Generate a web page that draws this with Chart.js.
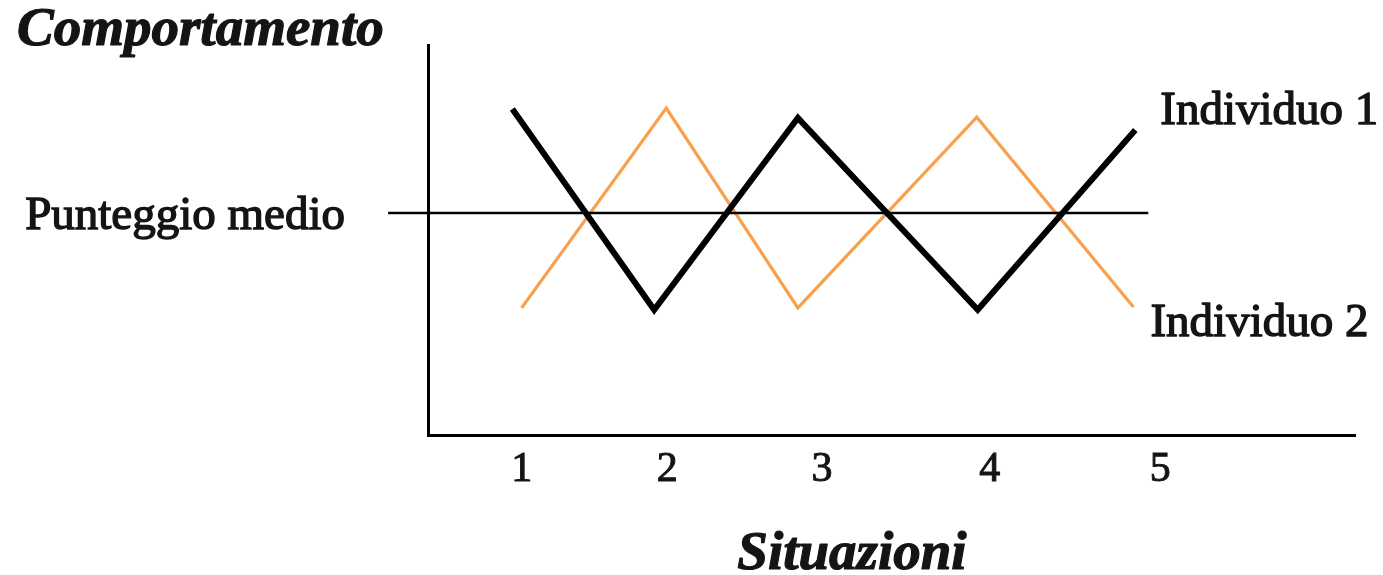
<!DOCTYPE html>
<html><head><meta charset="utf-8">
<script src="https://cdn.jsdelivr.net/npm/chart.js@4.4.1/dist/chart.umd.min.js"></script>
<style>html,body{margin:0;padding:0;background:#fff;overflow:hidden}#wrap{width:1383px;height:575px;position:relative}</style>
</head><body><div id="wrap"><canvas id="c" width="1383" height="575"></canvas></div>
<script>
// ---- data ----
const situationLabels = ['1', '2', '3', '4', '5'];
const situationTickPos = [10.1, 25.8, 42.5, 60.6, 79.0];
const individuo1X = [9.1, 24.4, 39.9, 59.3, 76.3];
const individuo1Y = [83.6, 32.1, 81.3, 32.1, 78.2];
const individuo2X = [10.1, 25.7, 39.9, 59.2, 76.1];
const individuo2Y = [32.6, 83.8, 32.6, 81.5, 32.8];
const meanScore = 56.9;
const meanLineX = [-4.3, 77.7];
const seriesNames = ['Individuo 1', 'Individuo 2'];
const yAxisTitle = 'Comportamento';
const xAxisTitle = 'Situazioni';
const meanLabel = 'Punteggio medio';

const SERIF = '"Liberation Serif", "DejaVu Serif", serif';
const INK = '#141414';
const toPts = (xs, ys) => xs.map((x, i) => ({x: x, y: ys[i]}));

function heavyText(ctx, text, x, y, sw) {
  ctx.lineWidth = sw;
  ctx.strokeStyle = INK;
  ctx.lineJoin = 'round';
  ctx.strokeText(text, x, y);
  ctx.fillText(text, x, y);
}

const textPlugin = {
  id: 'texts',
  afterDraw(chart) {
    const ctx = chart.ctx;
    ctx.save();
    ctx.fillStyle = INK;
    ctx.textBaseline = 'middle';
    // axis titles
    ctx.font = 'italic bold 55px ' + SERIF;
    ctx.textAlign = 'left';
    heavyText(ctx, yAxisTitle, 17, 31, 1.2);
    ctx.font = 'italic bold 55px ' + SERIF;
    ctx.textAlign = 'center';
    heavyText(ctx, xAxisTitle, 852, 555, 1.2);
    // series labels at the line ends
    ctx.font = '47px ' + SERIF;
    ctx.textAlign = 'left';
    const m1 = chart.getDatasetMeta(0).data;
    const e1 = m1[m1.length - 1];
    heavyText(ctx, seriesNames[0], e1.x + 25, e1.y - 18, 1.4);
    const m2 = chart.getDatasetMeta(2).data;
    const e2 = m2[m2.length - 1];
    heavyText(ctx, seriesNames[1], e2.x + 17, e2.y + 17, 1.4);
    ctx.restore();
  }
};

new Chart(document.getElementById('c'), {
  type: 'line',
  data: {
    datasets: [
      {
        label: seriesNames[0],
        data: toPts(individuo1X, individuo1Y),
        borderColor: '#000',
        borderWidth: 6,
        borderJoinStyle: 'miter',
        borderCapStyle: 'butt',
        pointRadius: 0,
        tension: 0,
        fill: false
      },
      {
        label: meanLabel,
        data: meanLineX.map(x => ({x: x, y: meanScore})),
        borderColor: '#000',
        borderWidth: 2.5,
        pointRadius: 0,
        clip: false,
        fill: false
      },
      {
        label: seriesNames[1],
        data: toPts(individuo2X, individuo2Y),
        borderColor: '#F9A04C',
        borderWidth: 3.2,
        borderJoinStyle: 'miter',
        borderCapStyle: 'butt',
        pointRadius: 0,
        tension: 0,
        fill: false
      }
    ]
  },
  options: {
    responsive: false,
    animation: false,
    devicePixelRatio: 1,
    layout: {padding: {left: 0, right: 28, top: 45, bottom: 0}},
    plugins: {legend: {display: false}, title: {display: false}, tooltip: {enabled: false}},
    scales: {
      x: {
        type: 'linear',
        min: 0,
        max: 100,
        grid: {display: false, drawTicks: false},
        border: {display: true, color: '#000', width: 3},
        afterBuildTicks: (s) => { s.ticks = situationTickPos.map(v => ({value: v})); },
        afterFit: (s) => { s.height = 140; s.paddingLeft = 0; s.paddingRight = 0; s.paddingTop = 0; s.paddingBottom = 0; },
        ticks: {
          autoSkip: false,
          maxRotation: 0,
          padding: 14,
          color: INK,
          textStrokeColor: INK,
          textStrokeWidth: 1,
          font: {family: SERIF, size: 42, lineHeight: 1},
          callback: (v, i) => situationLabels[i]
        }
      },
      y: {
        type: 'linear',
        min: 0,
        max: 100,
        grid: {display: false, drawTicks: false},
        border: {display: true, color: '#000', width: 3},
        afterBuildTicks: (s) => { s.ticks = [{value: meanScore}]; },
        afterFit: (s) => { s.width = 428; s.paddingTop = 0; s.paddingBottom = 0; s.paddingLeft = 0; s.paddingRight = 0; },
        ticks: {
          autoSkip: false,
          padding: 83,
          labelOffset: 4,
          color: INK,
          textStrokeColor: INK,
          textStrokeWidth: 1.4,
          font: {family: SERIF, size: 47, lineHeight: 1},
          callback: () => meanLabel
        }
      }
    }
  },
  plugins: [textPlugin]
});
</script>
</body></html>
